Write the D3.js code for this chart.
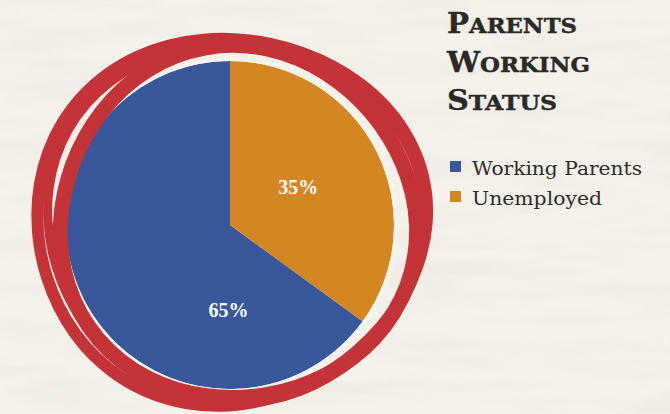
<!DOCTYPE html>
<html><head><meta charset="utf-8">
<script src="https://cdn.jsdelivr.net/npm/d3@7"></script>
<style>html,body{margin:0;padding:0;background:#f1eee7;overflow:hidden}</style>
</head><body>
<svg id="c" width="670" height="414"></svg>
<script>
const categories = ["Working Parents", "Unemployed"];
const values = [65, 35];
const valueLabels = ["65%", "35%"];
const colors = ["#39579b", "#d48623"];
const titleLines = ["Parents", "Working", "Status"];

const W = 670, H = 414;
const svg = d3.select("#c");
const defs = svg.append("defs");

// paper texture
const f = defs.append("filter").attr("id","paper").attr("x",0).attr("y",0).attr("width","100%").attr("height","100%");
f.append("feTurbulence").attr("type","fractalNoise").attr("baseFrequency","0.008 0.05").attr("numOctaves",4).attr("seed",7).attr("result","n");
f.append("feColorMatrix").attr("in","n").attr("type","matrix")
  .attr("values","0 0 0 0 0.86  0 0 0 0 0.83  0 0 0 0 0.77  2.6 0 0 0 -1.05");
svg.append("rect").attr("width",W).attr("height",H).attr("fill","#f5f2ec");
svg.append("rect").attr("width",W).attr("height",H).attr("filter","url(#paper)").attr("opacity",0.85);

// pie
const cx = 230, cy = 225, R = 164;
const total = d3.sum(values);
const start = values[1] / total * 2 * Math.PI;
const pie = d3.pie().sort(null).startAngle(start).endAngle(start + 2*Math.PI);
const arcs = pie(values);
const arc = d3.arc().innerRadius(0).outerRadius(R);
const g = svg.append("g").attr("transform", `translate(${cx},${cy})`);
g.selectAll("path.slice").data(arcs).join("path").attr("class","slice")
  .attr("d", arc).attr("fill", (d,i)=>colors[i]);
g.append("circle").attr("r", R+2).attr("fill","none").attr("stroke","#f6f3ed").attr("stroke-width",4);

// hand-drawn red ring (decoration)
const loops = [
  {x:237, y:224, rx:178, ry:176, rot:0,  w:15, a:3, p:0.5},
  {x:229, y:220, rx:195, ry:183, rot:-8, w:12, a:4, p:1.8},
  {x:235, y:222, rx:189, ry:179, rot:10, w:9,  a:3, p:3.1}
];
const line = d3.line().curve(d3.curveCardinalClosed);
loops.forEach(L => {
  const pts = [];
  const n = 36;
  for (let k=0;k<n;k++){
    const t = k/n*2*Math.PI;
    const wob = 1 + L.a/ L.rx * Math.sin(3*t + L.p);
    const ex = L.rx*wob*Math.cos(t), ey = L.ry*wob*Math.sin(t);
    const r = L.rot*Math.PI/180;
    pts.push([L.x + ex*Math.cos(r) - ey*Math.sin(r), L.y + ex*Math.sin(r) + ey*Math.cos(r)]);
  }
  svg.append("path").attr("d", line(pts)).attr("fill","none")
    .attr("stroke","#c43337").attr("stroke-width", L.w).attr("stroke-linejoin","round");
});

// value labels
const labelPlace = [{ang:181, k:0.52}, {ang:61, k:0.475}];
g.selectAll("text.val").data(arcs).join("text").attr("class","val")
  .attr("x",(d,i)=>Math.sin(labelPlace[i].ang*Math.PI/180)*R*labelPlace[i].k)
  .attr("y",(d,i)=>-Math.cos(labelPlace[i].ang*Math.PI/180)*R*labelPlace[i].k)
  .attr("text-anchor","middle").attr("dominant-baseline","central")
  .attr("font-family","'Liberation Serif', 'Times New Roman', serif").attr("font-weight","bold")
  .attr("font-size",21).attr("fill","#ffffff")
  .attr("textLength",40).attr("lengthAdjust","spacingAndGlyphs")
  .text((d,i)=>valueLabels[i]);

// title (small caps)
const tLens = [130, 143, 110];
const title = svg.append("g");
titleLines.forEach((s,i)=>{
  const t = title.append("text").attr("x",447).attr("y",33 + i*38.5)
    .attr("font-family","'DejaVu Serif', serif").attr("font-weight","bold")
    .attr("fill","#2a2a28").attr("stroke","#2a2a28").attr("stroke-width",0.4)
    .attr("textLength", tLens[i]).attr("lengthAdjust","spacingAndGlyphs");
  t.append("tspan").attr("font-size",27).text(s[0].toUpperCase());
  t.append("tspan").attr("font-size",21).text(s.slice(1).toUpperCase());
});

// legend
const lg = svg.append("g").attr("transform","translate(450,160)");
const item = lg.selectAll("g").data(categories).join("g").attr("transform",(d,i)=>`translate(0,${i*30})`);
item.append("rect").attr("width",11).attr("height",11).attr("y",1).attr("fill",(d,i)=>colors[i]);
item.append("text").attr("x",22).attr("y",15)
  .attr("font-family","'DejaVu Serif', serif").attr("font-size",19).attr("fill","#2e2e2c")
  .attr("textLength",(d,i)=>[170,130][i]).attr("lengthAdjust","spacingAndGlyphs")
  .text(d=>d);
</script>
</body></html>
